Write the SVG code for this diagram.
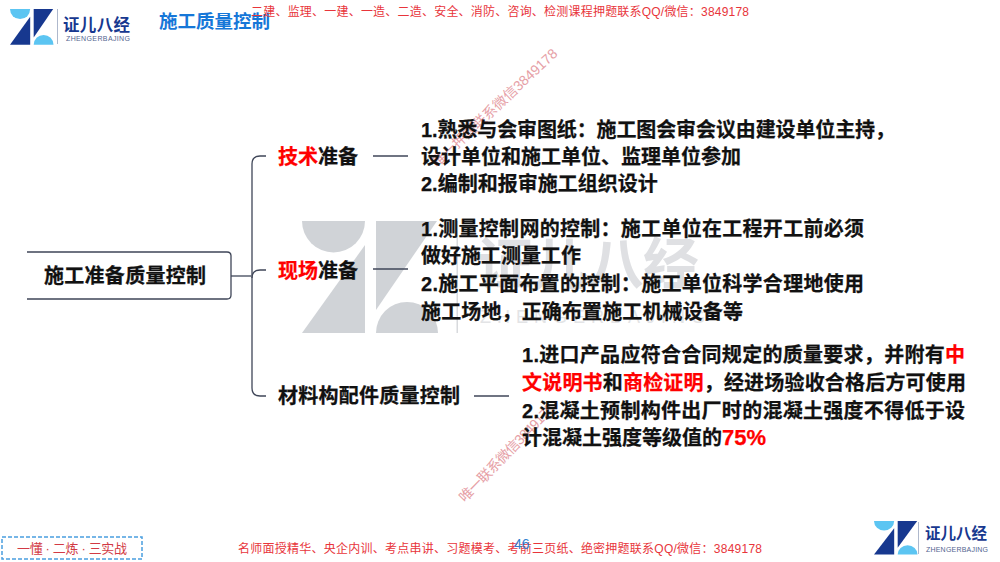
<svg xmlns="http://www.w3.org/2000/svg" width="1000" height="562" viewBox="0 0 1000 562">
<style>
text{font-family:"Liberation Sans","Noto Sans CJK SC",sans-serif}
.b,.n{font-weight:700;fill:#111;font-size:20px;stroke:#111;stroke-width:.25}
.r{fill:#f00;stroke:#f00}
.o{fill:#e8353b;font-size:12px}
.wm{fill:#e6a0a6;font-size:14px}
.c{fill:none;stroke:#3f4658;stroke-width:1.300}
</style>
<defs>
<g id="mark">
<path d="M0 0H63A31.500 31.500 0 0 1 0 0Z"/>
<path d="M0 112L63 24V112Z"/>
<path d="M74 0H135L74 89Z"/>
<path d="M74 112A31 31 0 0 1 136 112Z"/>
</g>
</defs>
<rect width="1000" height="562" fill="#fff"/>
<g id="watermark-logo" fill="#d0d3d7">
<use href="#mark" transform="translate(302 221)"/>
<rect x="456.500" y="221" width="1.500" height="112" fill="#d8dadd"/>
<text x="477" y="284" font-size="56" font-weight="700" fill="#dfe0e3" textLength="222">证儿八经</text>
<text x="480" y="323" font-size="18" fill="#e3e4e6" textLength="225">ZHENGERBAJING</text>
</g>
<g id="logo-top">
<g transform="translate(10 9) scale(.32)"><path fill="#5cc5f2" d="M0 0H63A31.500 31.500 0 0 1 0 0Z"/><path fill="#17388f" d="M0 112L63 24V112Z"/><path fill="#17388f" d="M74 0H135L74 89Z"/><path fill="#5cc5f2" d="M74 112A31 31 0 0 1 136 112Z"/></g>
<rect x="57" y="9" width="1" height="35" fill="#aeb8cc"/>
<text x="63" y="31" font-size="16.500" font-weight="700" fill="#17388f" textLength="67">证儿八经</text>
<text x="66" y="41" font-size="7" fill="#52648f" textLength="64">ZHENGERBAJING</text>
</g>
<text id="page-title" x="159" y="28" font-size="18.500" font-weight="700" fill="#1677d8">施工质量控制</text>
<text id="top-banner" x="251" y="16" class="o" textLength="498">二建、监理、一建、一造、二造、安全、消防、咨询、检测课程押题联系QQ/微信：3849178</text>
<g id="connectors">
<path class="c" d="M231 276H251"/>
<path class="c" d="M266 156H260Q252 156 252 164V388Q252 396 260 396H266"/>
<path class="c" d="M252 278Q252 270 260 270H266"/>
<path class="c" d="M373 156H408"/>
<path class="c" d="M373 269H408"/>
<path class="c" d="M474 396H509"/>
</g>
<g id="watermarks">
<text class="wm" transform="translate(437 168) rotate(-43)" textLength="166">唯一押题联系微信3849178</text>
<text class="wm" transform="translate(465 503) rotate(-46)" textLength="130">唯一联系微信3849178</text>
</g>
<g id="root">
<path d="M27 252H227Q231 252 231 256V295Q231 299 227 299H27" fill="none" stroke="#3f4658" stroke-width="1.300"/>
<text x="44" y="283" class="n" textLength="162">施工准备质量控制</text>
</g>
<g id="node-tech">
<text x="278" y="164" class="n"><tspan class="r">技术</tspan>准备</text>
<text x="421" y="137" class="b" textLength="474">1.熟悉与会审图纸：施工图会审会议由建设单位主持，</text>
<text x="421" y="164" class="b">设计单位和施工单位、监理单位参加</text>
<text x="421" y="191" class="b">2.编制和报审施工组织设计</text>
</g>
<g id="node-site">
<text x="278" y="278" class="n"><tspan class="r">现场</tspan>准备</text>
<text x="421" y="236" class="b" textLength="443">1.测量控制网的控制：施工单位在工程开工前必须</text>
<text x="421" y="263" class="b">做好施工测量工作</text>
<text x="421" y="291" class="b" textLength="443">2.施工平面布置的控制：施工单位科学合理地使用</text>
<text x="421" y="319" class="b" textLength="322">施工场地，正确布置施工机械设备等</text>
</g>
<g id="node-material">
<text x="278" y="403" class="n" textLength="182">材料构配件质量控制</text>
<text x="522" y="362" class="b" textLength="443">1.进口产品应符合合同规定的质量要求，并附有<tspan class="r">中</tspan></text>
<text x="522" y="390" class="b" textLength="444"><tspan class="r">文说明书</tspan>和<tspan class="r">商检证明</tspan>，经进场验收合格后方可使用</text>
<text x="522" y="418" class="b" textLength="443">2.混凝土预制构件出厂时的混凝土强度不得低于设</text>
<text x="522" y="445" class="b">计混凝土强度等级值的<tspan class="r" font-size="22">75%</tspan></text>
</g>
<g id="footer">
<rect x="2" y="537" width="140" height="22" fill="none" stroke="#4a9fe0" stroke-width="1.500" stroke-dasharray="4 2"/>
<text x="17" y="553" font-size="13" fill="#d23a45" textLength="110">一懂 · 二炼 · 三实战</text>
<text x="238" y="553" class="o" textLength="524">名师面授精华、央企内训、考点串讲、习题模考、考前三页纸、绝密押题联系QQ/微信：3849178</text>
<text x="514" y="549" font-size="14" fill="#2f7fd0">46</text>
<g transform="translate(874 521) scale(.32 .3)"><path fill="#5cc5f2" d="M0 0H63A31.500 31.500 0 0 1 0 0Z"/><path fill="#17388f" d="M0 112L63 24V112Z"/><path fill="#17388f" d="M74 0H135L74 89Z"/><path fill="#5cc5f2" d="M74 112A31 31 0 0 1 136 112Z"/></g>
<rect x="918" y="522" width="1" height="32" fill="#aeb8cc"/>
<text x="925" y="539" font-size="15.500" font-weight="700" fill="#17388f" textLength="62">证儿八经</text>
<text x="926" y="552" font-size="7" fill="#52648f" textLength="62">ZHENGERBAJING</text>
</g>
</svg>
